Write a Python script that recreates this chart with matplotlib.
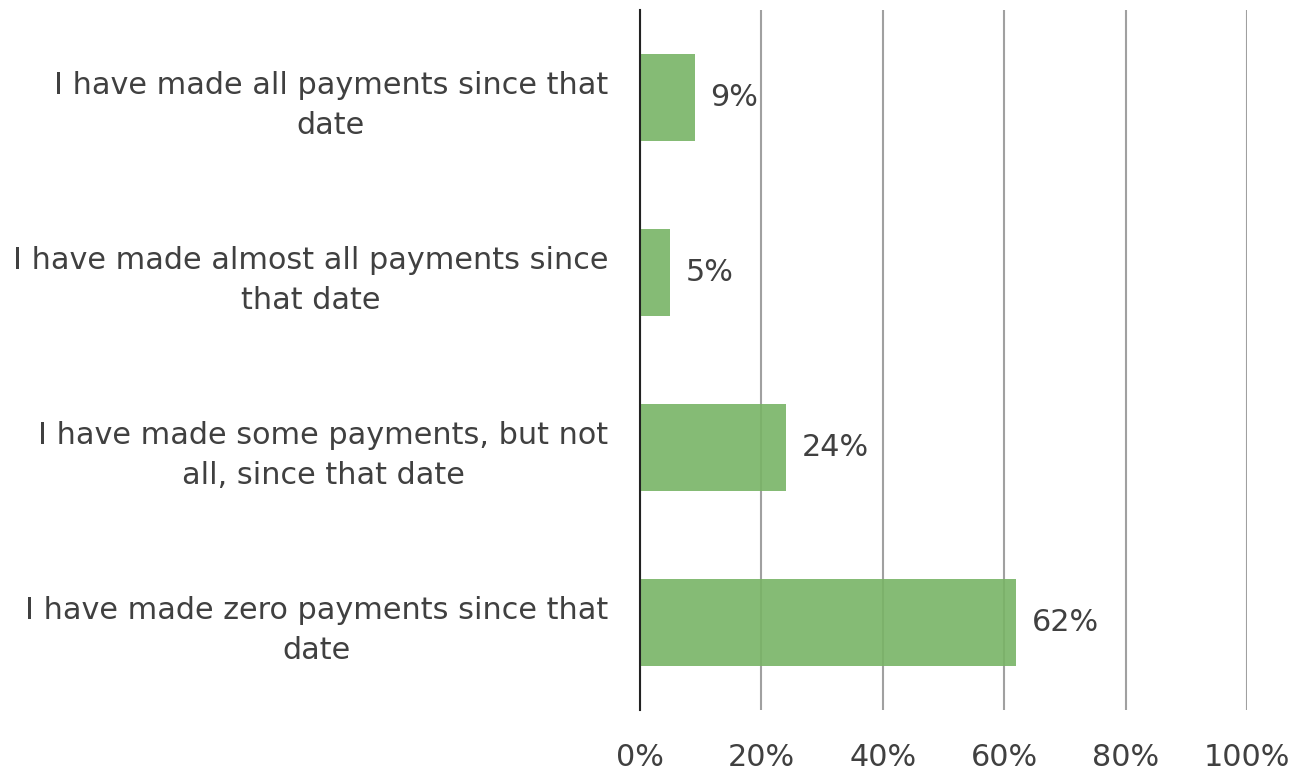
import matplotlib
matplotlib.use("Agg")
import matplotlib.pyplot as plt

categories = [
    "I have made all payments since that\ndate",
    "I have made almost all payments since\nthat date",
    "I have made some payments, but not\nall, since that date",
    "I have made zero payments since that\ndate",
]
values = [9, 5, 24, 62]
xticks = [0, 20, 40, 60, 80, 100]

plt.rcParams['font.family'] = ['DejaVu Sans']
text_col = '#404040'
fs = 21.8

fig = plt.figure(figsize=(12.95, 7.72), dpi=100)
ax = fig.add_axes([0.4942, 0.0803, 0.4687, 0.907])

ypos = list(range(len(categories)))
ax.barh(ypos, values, height=0.5, color='#78b466', alpha=0.9, zorder=2)
for y, v in zip(ypos, values):
    ax.text(v + 2.6, y, f"{v}%", va='center', ha='left', fontsize=fs,
            color=text_col)

ax.set_xlim(0, 100)
ax.set_ylim(3.5, -0.5)
ax.set_xticks(xticks)
ax.set_xticklabels([f"{t}%" for t in xticks], fontsize=fs, color=text_col)
ax.set_yticks(ypos)
ax.set_yticklabels(categories, fontsize=fs, color=text_col, ha='right',
                   multialignment='center', linespacing=1.45)
ax.tick_params(axis='x', length=0, pad=24)
ax.tick_params(axis='y', length=0, pad=23)

ax.xaxis.grid(True, color='#a0a0a0', linewidth=1.5, zorder=1)
ax.set_axisbelow(True)
for s in ['top', 'right', 'bottom']:
    ax.spines[s].set_visible(False)
ax.spines['left'].set_color('#222222')
ax.spines['left'].set_linewidth(1.5)
ax.spines['left'].set_zorder(3)

fig.savefig("out.png", dpi=100)
